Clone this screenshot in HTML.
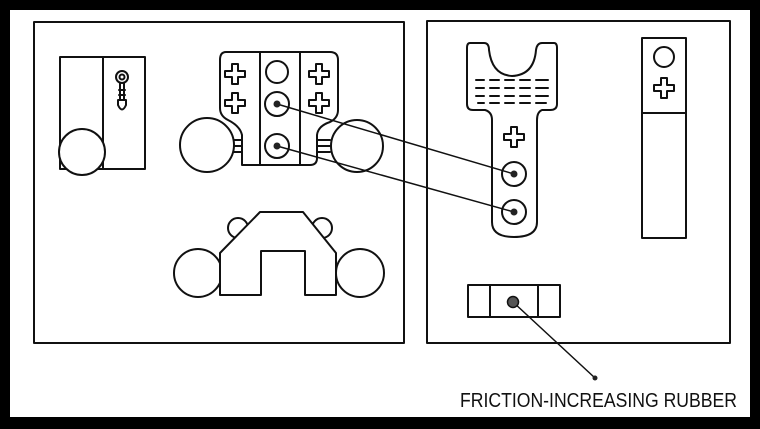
<!DOCTYPE html>
<html><head><meta charset="utf-8"><style>
html,body{margin:0;padding:0;background:#000;}
svg{display:block;}
</style></head><body>
<svg width="760" height="429" viewBox="0 0 760 429" xmlns="http://www.w3.org/2000/svg">
<rect x="0" y="0" width="760" height="429" fill="#000"/>
<rect x="10" y="10" width="740" height="407" fill="#fff"/>
<g fill="none" stroke="#111" stroke-width="2" stroke-linejoin="round" stroke-linecap="round">
<rect x="34" y="22" width="370" height="321"/>
<rect x="427" y="21" width="303" height="322"/>

<rect x="60" y="57" width="85" height="112" fill="#fff"/>
<line x1="103" y1="57" x2="103" y2="169"/>
<circle cx="82" cy="152" r="23" fill="#fff"/>
<circle cx="122" cy="77" r="6"/>
<circle cx="122" cy="77" r="2.5"/>
<path d="M120 83 L120 100 M124 83 L124 100 M119 90 H125 M119 95 H125 M118 100 H126 L126 105 Q122 114 118 105 Z"/>

<path d="M226 52 H330 Q338 52 338 60 V110 Q338 118 330 122 Q318 126 317 135 V158 Q317 165 310 165 H242 V135 Q240 126 228 120 Q220 116 220 108 V60 Q220 52 226 52 Z" fill="#fff"/>
<line x1="260" y1="52" x2="260" y2="165"/>
<line x1="300" y1="52" x2="300" y2="165"/>
<path d="M230 140 H242 M230 146 H242 M230 152 H242 M317 140 H330 M317 146 H330 M317 152 H330"/>
<circle cx="207" cy="145" r="27" fill="#fff"/>
<circle cx="357" cy="146" r="26" fill="#fff"/>
<path d="M-3 -10 H3 V-3 H10 V3 H3 V10 H-3 V3 H-10 V-3 H-3 Z" transform="translate(235,74)"/>
<path d="M-3 -10 H3 V-3 H10 V3 H3 V10 H-3 V3 H-10 V-3 H-3 Z" transform="translate(235,103)"/>
<path d="M-3 -10 H3 V-3 H10 V3 H3 V10 H-3 V3 H-10 V-3 H-3 Z" transform="translate(319,74)"/>
<path d="M-3 -10 H3 V-3 H10 V3 H3 V10 H-3 V3 H-10 V-3 H-3 Z" transform="translate(319,103)"/>
<circle cx="277" cy="72" r="11"/>
<circle cx="277" cy="104" r="12"/>
<circle cx="277" cy="146" r="12"/>

<circle cx="238" cy="228" r="10" fill="#fff"/>
<circle cx="322" cy="228" r="10" fill="#fff"/>
<circle cx="198" cy="273" r="24" fill="#fff"/>
<circle cx="360" cy="273" r="24" fill="#fff"/>
<path d="M260 212 H303 L336 253 V295 H305 V251 H261 V295 H220 V253 Z" fill="#fff"/>

<path d="M470 43 H484 Q489 43 489 50 Q492 75 512 76 Q534 75 536 50 Q537 43 542 43 H554 Q557 43 557 48 V104 Q557 110 550 110 H542 Q537 112 537 120 V222 Q537 237 514 237 Q492 237 492 222 V120 Q492 112 485 110 H473 Q467 110 467 104 V48 Q467 43 470 43 Z" fill="#fff"/>
<path d="M476 80 H484 M490 80 H499 M505 80 H514 M520 80 H530 M536 80 H548 M476 88 H484 M490 88 H499 M505 88 H514 M520 88 H530 M536 88 H548 M476 96 H484 M490 96 H499 M505 96 H514 M520 96 H530 M536 96 H548 M478 103 H484 M490 103 H499 M505 103 H514 M520 103 H530 M536 103 H546"/>
<path d="M-3 -10 H3 V-3 H10 V3 H3 V10 H-3 V3 H-10 V-3 H-3 Z" transform="translate(514,137)"/>
<circle cx="514" cy="174" r="12"/>
<circle cx="514" cy="212" r="12"/>

<line x1="277" y1="104" x2="514" y2="174" stroke-width="1.5"/>
<line x1="277" y1="146" x2="514" y2="212" stroke-width="1.5"/>

<rect x="642" y="38" width="44" height="200"/>
<line x1="642" y1="113" x2="686" y2="113"/>
<circle cx="664" cy="57" r="10"/>
<path d="M-3 -10 H3 V-3 H10 V3 H3 V10 H-3 V3 H-10 V-3 H-3 Z" transform="translate(664,88)"/>

<rect x="468" y="285" width="92" height="32"/>
<line x1="490" y1="285" x2="490" y2="317"/>
<line x1="538" y1="285" x2="538" y2="317"/>
<line x1="513" y1="302" x2="595" y2="378" stroke-width="1.5"/>
</g>
<g fill="#222">
<circle cx="277" cy="104" r="3.5"/>
<circle cx="277" cy="146" r="3.5"/>
<circle cx="514" cy="174" r="3.5"/>
<circle cx="514" cy="212" r="3.5"/>
<circle cx="513" cy="302" r="5.5" fill="#555" stroke="#111" stroke-width="1.5"/>
<circle cx="595" cy="378" r="2.5"/>
</g>
<text x="460" y="407" font-family="Liberation Sans, sans-serif" font-size="20" fill="#111" textLength="277" lengthAdjust="spacingAndGlyphs">FRICTION-INCREASING RUBBER</text>
</svg>
</body></html>
